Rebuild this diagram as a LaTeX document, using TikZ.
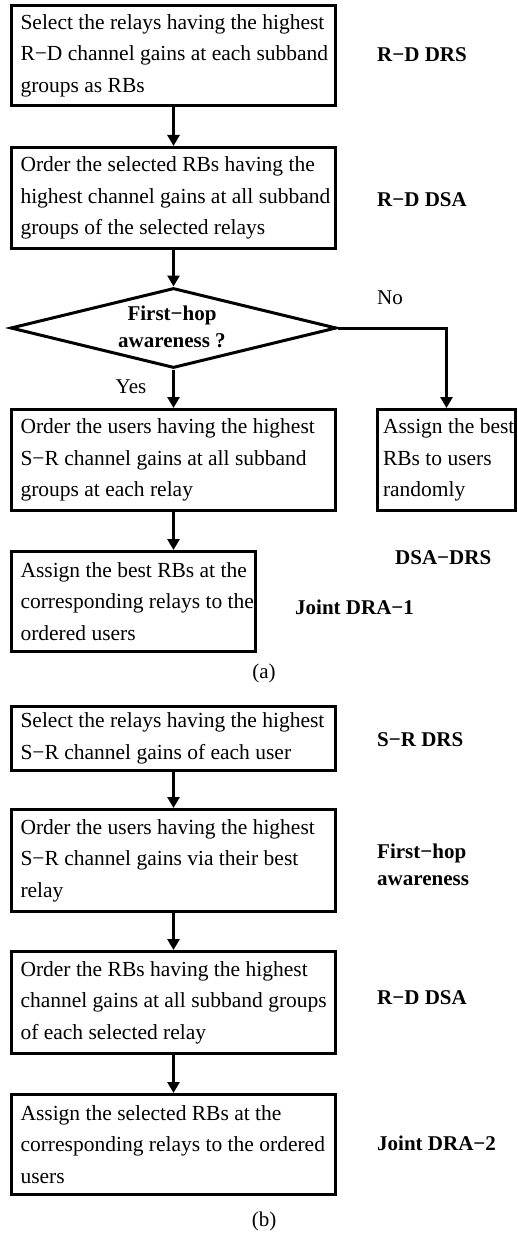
\documentclass[tikz,border=0pt]{standalone}
\usepackage{fontspec}
\setmainfont{Liberation Serif}
\usetikzlibrary{shapes.geometric,arrows.meta}
\hbadness=10000 \hfuzz=100pt
\newcommand\bxl[1]{\mbox{\spaceskip=0pt\xspaceskip=0pt #1}}
\begin{document}
\begin{tikzpicture}[x=1pt,y=-1pt,
 stepbox/.style={draw, line width=3pt, inner xsep=9pt, inner ysep=0pt, font=\fontsize{21.5}{31.5}\selectfont},
 lab/.style={font=\bfseries\fontsize{21}{27}\selectfont, anchor=west, inner sep=0pt, align=left},
 plain/.style={font=\fontsize{21}{27}\selectfont, inner sep=0pt},
 flow/.style={line width=3pt, -{Triangle[length=11pt,width=12pt]}},
 decbox/.style={diamond, draw, line width=3pt, inner sep=0pt},
 dectext/.style={font=\bfseries\fontsize{21}{27}\selectfont, align=center, inner sep=0pt},
]
\useasboundingbox (0,0) rectangle (518,1233);

% ---------- (a) ----------
\node[stepbox, text width=306pt, minimum height=100pt] (b1) at (173.5,55.5)
 {\bxl{Select the relays having the highest}\\\bxl{R−D channel gains at each subband}\\\bxl{groups as RBs}};
\node[stepbox, text width=306pt, minimum height=101pt] (b2) at (173.5,198)
 {\bxl{Order the selected RBs having the}\\\bxl{highest channel gains at all subband}\\\bxl{groups of the selected relays}};
\node[decbox, minimum width=326pt, minimum height=80pt] (dec) at (173.5,328) {};
\node[dectext] (dect) at (172,326.5) {First−hop\\awareness ?};
\node[stepbox, text width=306pt, minimum height=101pt] (b3) at (173.5,460)
 {\bxl{Order the users having the highest}\\\bxl{S−R channel gains at all subband}\\\bxl{groups at each relay}};
\node[stepbox, inner xsep=5.5pt, text width=127pt, minimum height=101pt] (b4) at (446.5,460)
 {\bxl{Assign the best}\\\bxl{RBs to users}\\\bxl{randomly}};
\node[stepbox, text width=226pt, minimum height=100pt] (b5) at (133.5,601.5)
 {\bxl{Assign the best RBs at the}\\\bxl{corresponding relays to the}\\\bxl{ordered users}};

\draw[flow] (b1.south) -- (b2.north);
\draw[flow] (b2.south) -- (dec.north);
\draw[flow] (dec.south) -- (b3.north);
\draw[flow] (dec.east) -| (b4.north);
\draw[flow] (b3.south) -- (b3.south |- b5.north);

\node[plain] (no) at (390,298) {No};
\node[plain] (yes) at (131,387) {Yes};

\node[lab] (l1) at (377,55) {R−D DRS};
\node[lab] (l2) at (377,200) {R−D DSA};
\node[lab] (l3) at (395,558) {DSA−DRS};
\node[lab] (l4) at (295,607) {Joint DRA−1};
\node[plain] (capa) at (264,673) {(a)};

% ---------- (b) ----------
\node[stepbox, text width=306pt, minimum height=64pt] (b6) at (173.5,738.5)
 {\bxl{Select the relays having the highest}\\\bxl{S−R channel gains of each user}};
\node[stepbox, text width=306pt, minimum height=102pt] (b7) at (173.5,860.5)
 {\bxl{Order the users having the highest}\\\bxl{S−R channel gains via their best}\\\bxl{relay}};
\node[stepbox, text width=306pt, minimum height=102pt] (b8) at (173.5,1002.5)
 {\bxl{Order the RBs having the highest}\\\bxl{channel gains at all subband groups}\\\bxl{of each selected relay}};
\node[stepbox, text width=306pt, minimum height=100pt] (b9) at (173.5,1144.5)
 {\bxl{Assign the selected RBs at the}\\\bxl{corresponding relays to the ordered}\\\bxl{users}};

\draw[flow] (b6.south) -- (b7.north);
\draw[flow] (b7.south) -- (b8.north);
\draw[flow] (b8.south) -- (b9.north);

\node[lab] (l5) at (377,740) {S−R DRS};
\node[lab] (l6) at (377,865) {First−hop\\awareness};
\node[lab] (l7) at (377,998) {R−D DSA};
\node[lab] (l8) at (377,1143) {Joint DRA−2};
\node[plain] (capb) at (264,1221) {(b)};
\end{tikzpicture}
\end{document}
